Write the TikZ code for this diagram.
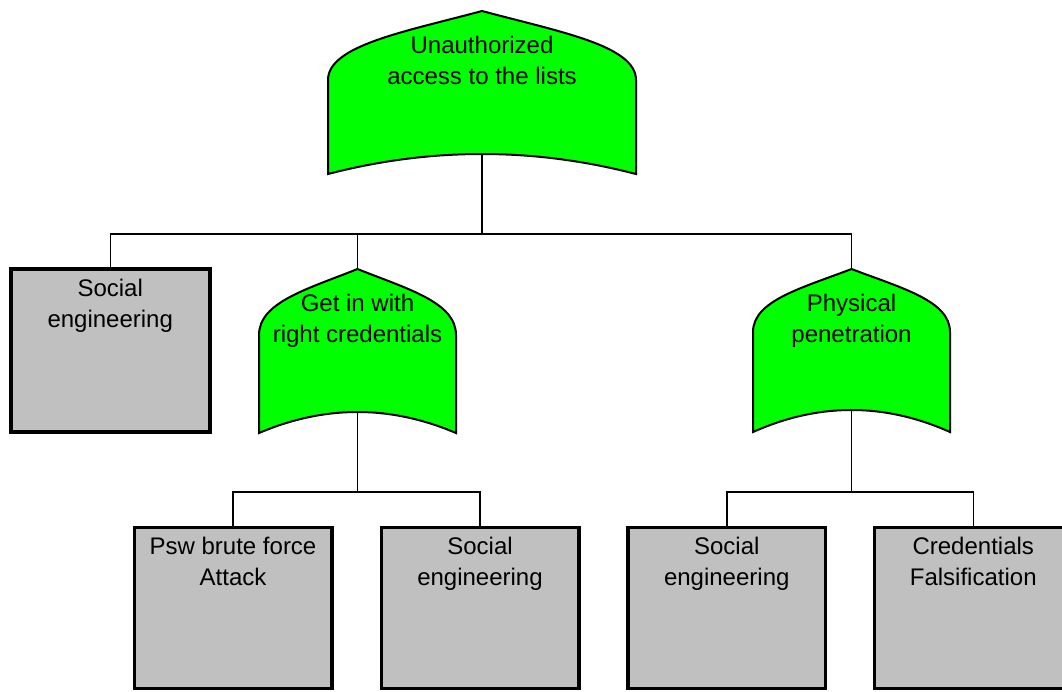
\documentclass[tikz,border=0pt]{standalone}
\usepackage{fontspec}
\setmainfont{Liberation Sans}
\definecolor{gatefill}{HTML}{00FF00}
\definecolor{eventfill}{HTML}{C0C0C0}
\tikzset{
  gate/.style={draw=black, fill=gatefill, line width=2pt, line join=miter},
  event/.style={draw=black, fill=eventfill, line width=3.5pt, rectangle,
    minimum width=197.5pt, minimum height=161pt, inner sep=0pt},
  lbl/.style={font=\fontsize{24}{31}\selectfont, align=center, inner sep=0pt, anchor=north},
  wire/.style={draw=black, line width=1.5pt},
}
% OR gate: #1 name, #2 centre x, #3 apex y, #4 half width,
% #5 shoulder y, #6 foot y at the sides, #7 foot y at the centre, #8 text
\newcommand\orgate[8]{%
  \path[gate] ({#2-#4},#5)
    .. controls ({#2-#4},{#5-0.5*(#5-#3)}) and ({#2-0.5*#4},{#3+0.3*(#5-#3)}) .. (#2,#3)
    .. controls ({#2+0.5*#4},{#3+0.3*(#5-#3)}) and ({#2+#4},{#5-0.5*(#5-#3)}) .. ({#2+#4},#5)
    -- ({#2+#4},#6)
    .. controls ({#2+#4/3},{(4*#7-#6)/3}) and ({#2-#4/3},{(4*#7-#6)/3}) .. ({#2-#4},#6)
    -- cycle;
  \coordinate (#1-top) at (#2,#3);
  \coordinate (#1-bot) at (#2,#7);
  \node[lbl] (#1-text) at (#2,{#3+24.5}) {#8};
}
\begin{document}
\begin{tikzpicture}[x=1pt, y=-1pt]
  \useasboundingbox (0,0) rectangle (1062,691);
  \clip (0,0) rectangle (1062,691);

  % basic events
  \node[event, minimum width=199pt, minimum height=163pt] (sb) at (110.25,350.25) {};
  \node[event] (e1) at (233,607.75) {};
  \node[event] (e2) at (480,607.75) {};
  \node[event] (e3) at (726.75,607.75) {};
  \node[event] (e4) at (973.25,607.75) {};

  \node[lbl] (sb-text) at ([yshift=-11.5pt]sb.north) {Social\\engineering};
  \node[lbl] (e1-text) at ([yshift=-11.5pt]e1.north) {Psw brute force\\Attack};
  \node[lbl] (e2-text) at ([yshift=-11.5pt]e2.north) {Social\\engineering};
  \node[lbl] (e3-text) at ([yshift=-11.5pt]e3.north) {Social\\engineering};
  \node[lbl] (e4-text) at ([yshift=-11.5pt]e4.north) {Credentials\\Falsification};

  % OR gates
  \orgate{g0}{482}{11}{154}{80}{174}{154}{Unauthorized\\access to the lists}
  \orgate{g1}{357.5}{269}{98.5}{335}{433}{412}{Get in with\\right credentials}
  \orgate{g2}{851.5}{269}{98.5}{332}{432}{410}{Physical\\penetration}

  % buses
  \coordinate (bus0) at (0,234);
  \coordinate (bus1) at (0,492);

  % connectors
  \draw[wire] (g0-bot) -- (g0-bot |- bus0);
  \draw[wire] (sb.north) |- (g2-top |- bus0) -- (g2-top);
  \draw[wire] (g1-top |- bus0) -- (g1-top);

  \draw[wire] (g1-bot) -- (g1-bot |- bus1);
  \draw[wire] (e1.north) |- (e2.north |- bus1) -- (e2.north);

  \draw[wire] (g2-bot) -- (g2-bot |- bus1);
  \draw[wire] (e3.north) |- (e4.north |- bus1) -- (e4.north);
\end{tikzpicture}
\end{document}
